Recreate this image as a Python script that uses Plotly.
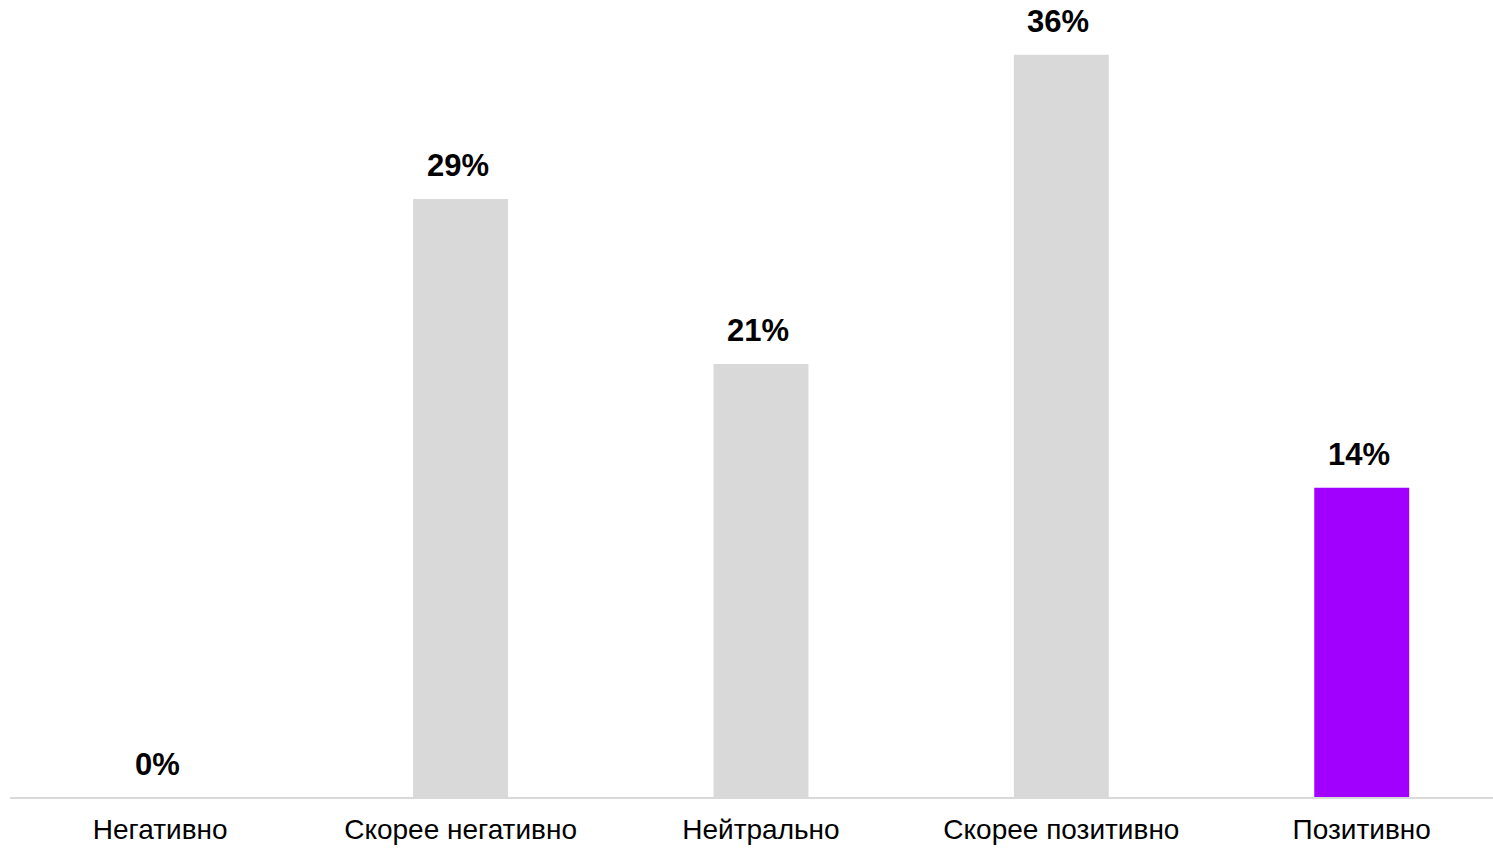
import plotly.graph_objects as go

categories = ["Негативно", "Скорее негативно", "Нейтрально", "Скорее позитивно", "Позитивно"]
bar_values = [0, 29, 21, 36, 15]
value_labels = ["0%", "29%", "21%", "36%", "14%"]
bar_colors = ["#D9D9D9", "#D9D9D9", "#D9D9D9", "#D9D9D9", "#A100FF"]

FONT = "Liberation Sans, Arial, sans-serif"

fig = go.Figure()
fig.add_trace(go.Bar(
    x=categories,
    y=bar_values,
    marker=dict(color=bar_colors, line=dict(width=0)),
    hoverinfo="skip",
))

for c, v, t in zip(categories, bar_values, value_labels):
    fig.add_annotation(
        x=c, y=v, text=f"<b>{t}</b>", showarrow=False,
        yanchor="middle", yshift=33, xshift=-3,
        font=dict(family=FONT, size=31, color="#000000"),
    )

fig.update_layout(
    width=1493, height=848,
    margin=dict(l=10, r=0, t=0, b=51),
    plot_bgcolor="white", paper_bgcolor="white",
    bargap=0.684,
    showlegend=False,
    font=dict(family=FONT, size=28, color="#000000"),
)
fig.update_xaxes(
    range=[-0.5, 4.437],
    showline=True, linecolor="#D9D9D9", linewidth=2,
    showgrid=False, ticks="", zeroline=False,
    tickfont=dict(family=FONT, size=28, color="#000000"),
    ticklabelstandoff=6,
    automargin=False,
)
fig.update_yaxes(
    range=[0, 38.65], visible=False, showgrid=False, zeroline=False,
    automargin=False,
)

fig.write_html("out.html")
